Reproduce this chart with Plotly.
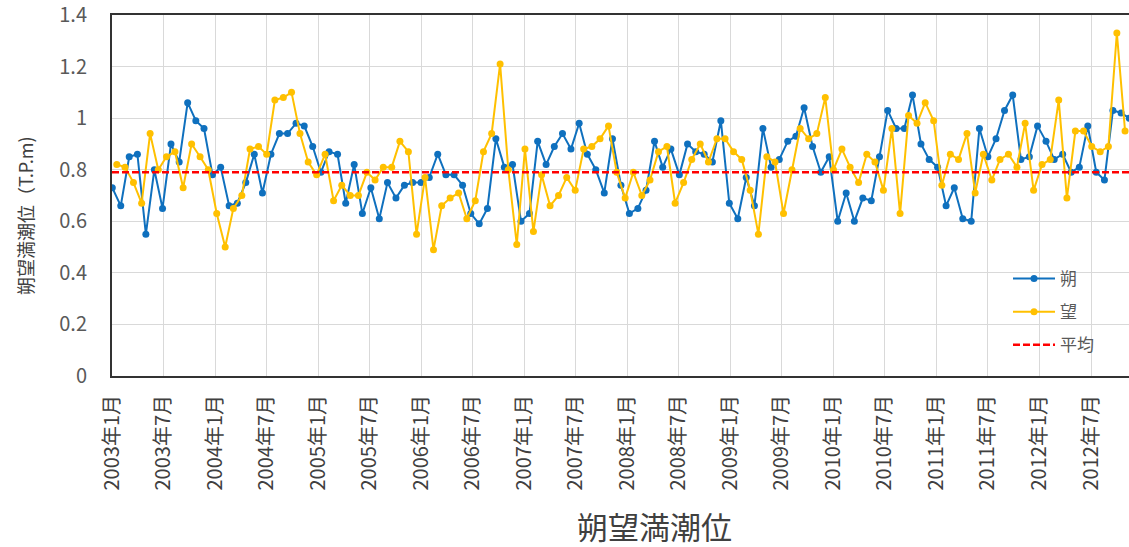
import plotly.graph_objects as go

# 朔 (new moon) dates and high-water levels
saku_dates = [
    "2003-01-02", "2003-02-01", "2003-03-03", "2003-04-01", "2003-05-01", "2003-05-31", "2003-06-29",
    "2003-07-29", "2003-08-27", "2003-09-26", "2003-10-25", "2003-11-23", "2003-12-23",
    "2004-01-21", "2004-02-20", "2004-03-20", "2004-04-19", "2004-05-19", "2004-06-17", "2004-07-17",
    "2004-08-16", "2004-09-14", "2004-10-14", "2004-11-12", "2004-12-12",
    "2005-01-10", "2005-02-08", "2005-03-10", "2005-04-08", "2005-05-08", "2005-06-06", "2005-07-06",
    "2005-08-05", "2005-09-03", "2005-10-03", "2005-11-02", "2005-12-01", "2005-12-31",
    "2006-01-29", "2006-02-28", "2006-03-29", "2006-04-27", "2006-05-27", "2006-06-25", "2006-07-25",
    "2006-08-23", "2006-09-22", "2006-10-22", "2006-11-20", "2006-12-20",
    "2007-01-19", "2007-02-17", "2007-03-19", "2007-04-17", "2007-05-16", "2007-06-15", "2007-07-14",
    "2007-08-12", "2007-09-11", "2007-10-11", "2007-11-09", "2007-12-09",
    "2008-01-08", "2008-02-07", "2008-03-07", "2008-04-06", "2008-05-05", "2008-06-03", "2008-07-03",
    "2008-08-01", "2008-08-30", "2008-09-29", "2008-10-28", "2008-11-27", "2008-12-27",
    "2009-01-26", "2009-02-25", "2009-03-26", "2009-04-25", "2009-05-24", "2009-06-22", "2009-07-22",
    "2009-08-20", "2009-09-18", "2009-10-18", "2009-11-16", "2009-12-16",
    "2010-01-15", "2010-02-14", "2010-03-15", "2010-04-14", "2010-05-14", "2010-06-12", "2010-07-11",
    "2010-08-10", "2010-09-08", "2010-10-07", "2010-11-06", "2010-12-05",
    "2011-01-04", "2011-02-03", "2011-03-04", "2011-04-03", "2011-05-03", "2011-06-01", "2011-07-01",
    "2011-07-30", "2011-08-29", "2011-09-27", "2011-10-26", "2011-11-25", "2011-12-24",
    "2012-01-23", "2012-02-21", "2012-03-22", "2012-04-21", "2012-05-20", "2012-06-19", "2012-07-19",
    "2012-08-17", "2012-09-16", "2012-10-15", "2012-11-13",
]
saku_values = [
    0.73, 0.66, 0.85, 0.86, 0.55, 0.80, 0.65, 0.90, 0.83, 1.06, 0.99, 0.96, 0.78,
    0.81, 0.66, 0.67, 0.75, 0.86, 0.71, 0.86, 0.94, 0.94, 0.98, 0.97, 0.89,
    0.79, 0.87, 0.86, 0.67, 0.82, 0.63, 0.73, 0.61, 0.75, 0.69, 0.74, 0.75, 0.75,
    0.77, 0.86, 0.78, 0.78, 0.74, 0.63, 0.59, 0.65, 0.92, 0.81, 0.82, 0.60,
    0.63, 0.91, 0.82, 0.89, 0.94, 0.88, 0.98, 0.86, 0.80, 0.71, 0.92, 0.74,
    0.63, 0.65, 0.72, 0.91, 0.81, 0.88, 0.78, 0.90, 0.87, 0.86, 0.83, 0.99, 0.67,
    0.61, 0.77, 0.66, 0.96, 0.81, 0.84, 0.91, 0.93, 1.04, 0.89, 0.79, 0.85,
    0.60, 0.71, 0.60, 0.69, 0.68, 0.85, 1.03, 0.96, 0.96, 1.09, 0.90, 0.84,
    0.81, 0.66, 0.73, 0.61, 0.60, 0.96, 0.85, 0.92, 1.03, 1.09, 0.84, 0.85, 0.97,
    0.91, 0.84, 0.86, 0.79, 0.81, 0.97, 0.79, 0.76, 1.03, 1.02, 1.00,
]

# 望 (full moon) dates and high-water levels
bou_dates = [
    "2003-01-18", "2003-02-16", "2003-03-18", "2003-04-16", "2003-05-16", "2003-06-14", "2003-07-13",
    "2003-08-12", "2003-09-10", "2003-10-10", "2003-11-09", "2003-12-08",
    "2004-01-07", "2004-02-06", "2004-03-06", "2004-04-05", "2004-05-04", "2004-06-03", "2004-07-02",
    "2004-07-31", "2004-08-30", "2004-09-28", "2004-10-28", "2004-11-26", "2004-12-26",
    "2005-01-25", "2005-02-24", "2005-03-25", "2005-04-24", "2005-05-23", "2005-06-22", "2005-07-21",
    "2005-08-19", "2005-09-18", "2005-10-17", "2005-11-16", "2005-12-15",
    "2006-01-14", "2006-02-13", "2006-03-14", "2006-04-13", "2006-05-13", "2006-06-11", "2006-07-11",
    "2006-08-09", "2006-09-07", "2006-10-07", "2006-11-05", "2006-12-05",
    "2007-01-03", "2007-02-02", "2007-03-03", "2007-04-02", "2007-05-02", "2007-05-31", "2007-06-30",
    "2007-07-30", "2007-08-28", "2007-09-26", "2007-10-26", "2007-11-24", "2007-12-24",
    "2008-01-22", "2008-02-21", "2008-03-21", "2008-04-20", "2008-05-20", "2008-06-18", "2008-07-18",
    "2008-08-16", "2008-09-15", "2008-10-14", "2008-11-13", "2008-12-12",
    "2009-01-11", "2009-02-09", "2009-03-11", "2009-04-09", "2009-05-09", "2009-06-07", "2009-07-07",
    "2009-08-06", "2009-09-04", "2009-10-04", "2009-11-02", "2009-12-02", "2009-12-31",
    "2010-01-30", "2010-02-28", "2010-03-30", "2010-04-28", "2010-05-27", "2010-06-26", "2010-07-26",
    "2010-08-24", "2010-09-23", "2010-10-23", "2010-11-21", "2010-12-21",
    "2011-01-19", "2011-02-18", "2011-03-19", "2011-04-18", "2011-05-17", "2011-06-15", "2011-07-15",
    "2011-08-13", "2011-09-12", "2011-10-12", "2011-11-10", "2011-12-10",
    "2012-01-09", "2012-02-07", "2012-03-08", "2012-04-06", "2012-05-06", "2012-06-04", "2012-07-03",
    "2012-08-02", "2012-08-31", "2012-09-30", "2012-10-29",
]
bou_values = [
    0.82, 0.81, 0.75, 0.67, 0.94, 0.80, 0.85, 0.87, 0.73, 0.90, 0.85, 0.80,
    0.63, 0.50, 0.65, 0.70, 0.88, 0.89, 0.86, 1.07, 1.08, 1.10, 0.94, 0.83, 0.78,
    0.86, 0.68, 0.74, 0.70, 0.70, 0.79, 0.76, 0.81, 0.81, 0.91, 0.87, 0.55,
    0.77, 0.49, 0.66, 0.69, 0.71, 0.61, 0.68, 0.87, 0.94, 1.21, 0.80, 0.51,
    0.88, 0.56, 0.78, 0.66, 0.70, 0.77, 0.72, 0.88, 0.89, 0.92, 0.97, 0.79, 0.69,
    0.79, 0.70, 0.76, 0.87, 0.89, 0.67, 0.75, 0.84, 0.90, 0.83, 0.92, 0.92,
    0.87, 0.84, 0.72, 0.55, 0.85, 0.83, 0.63, 0.80, 0.96, 0.92, 0.94, 1.08, 0.80,
    0.88, 0.81, 0.75, 0.86, 0.83, 0.72, 0.96, 0.63, 1.01, 0.98, 1.06, 0.99,
    0.74, 0.86, 0.84, 0.94, 0.71, 0.86, 0.76, 0.84, 0.86, 0.81, 0.98, 0.72,
    0.82, 0.84, 1.07, 0.69, 0.95, 0.95, 0.89, 0.87, 0.89, 1.33, 0.95,
]

average_value = 0.79
average_dates = ["2003-01-01", "2013-01-01"]

tick_dates = [
    "2003-01-01", "2003-07-01", "2004-01-01", "2004-07-01", "2005-01-01", "2005-07-01",
    "2006-01-01", "2006-07-01", "2007-01-01", "2007-07-01", "2008-01-01", "2008-07-01",
    "2009-01-01", "2009-07-01", "2010-01-01", "2010-07-01", "2011-01-01", "2011-07-01",
    "2012-01-01", "2012-07-01",
]
tick_labels = [
    "2003年1月", "2003年7月", "2004年1月", "2004年7月", "2005年1月", "2005年7月",
    "2006年1月", "2006年7月", "2007年1月", "2007年7月", "2008年1月", "2008年7月",
    "2009年1月", "2009年7月", "2010年1月", "2010年7月", "2011年1月", "2011年7月",
    "2012年1月", "2012年7月",
]

FONT = "Noto Sans CJK JP"
W, H = 1129, 547
L, R, T, B = 112, 0, 15, 171

fig = go.Figure()
fig.add_trace(go.Scatter(
    x=saku_dates, y=saku_values, name="朔", mode="lines+markers",
    line=dict(color="#0F70BE", width=2), marker=dict(size=7, color="#0F70BE"),
    legendgroup="a",
))
fig.add_trace(go.Scatter(
    x=bou_dates, y=bou_values, name="望", mode="lines+markers",
    line=dict(color="#FFC000", width=2), marker=dict(size=7, color="#FFC000"),
    legendgroup="b",
))
fig.add_trace(go.Scatter(
    x=average_dates, y=[average_value] * len(average_dates), name="平均", mode="lines",
    line=dict(color="#FF0000", width=2.5, dash="7px,3px"),
    legendgroup="c",
))

pw = W - L - R
ph = H - T - B

fig.update_layout(
    width=W, height=H,
    margin=dict(l=L, r=R, t=T, b=B, autoexpand=False),
    paper_bgcolor="white", plot_bgcolor="white",
    font=dict(family=FONT, color="#595959"),
    showlegend=True,
    legend=dict(
        x=(1008 - L) / pw, y=(H - B - 261) / ph, xanchor="left", yanchor="top",
        bgcolor="rgba(0,0,0,0)", font=dict(size=17, color="#595959", family=FONT),
        traceorder="grouped", tracegroupgap=8, itemwidth=42,
    ),
    xaxis=dict(
        type="date", range=["2003-01-01", "2012-11-12"],
        tickmode="array", tickvals=tick_dates, ticktext=tick_labels,
        tickangle=-90, tickfont=dict(size=20, color="#404040", family=FONT),
        showgrid=True, gridcolor="#D9D9D9", gridwidth=1,
        showline=True, linecolor="#333333", linewidth=2, mirror=True,
        ticks="", ticklabelstandoff=9, zeroline=False, ticklabeloverflow="allow",
    ),
    yaxis=dict(
        range=[0, 1.4], dtick=0.2, tick0=0,
        tickfont=dict(size=20, color="#595959", family=FONT),
        showgrid=True, gridcolor="#D9D9D9", gridwidth=1,
        showline=True, linecolor="#333333", linewidth=2, mirror=True,
        ticks="", ticklabelstandoff=19, zeroline=False, ticklabeloverflow="allow",
    ),
    annotations=[
        dict(text="朔望満潮位（T.P.m)", xref="paper", yref="paper",
             x=(25 - L) / pw, y=(H - B - 216) / ph, textangle=-90,
             showarrow=False, xanchor="center", yanchor="middle",
             font=dict(size=18, color="#404040", family=FONT)),
        dict(text="朔望満潮位", xref="paper", yref="paper",
             x=(654 - L) / pw, y=(H - B - 525) / ph,
             showarrow=False, xanchor="center", yanchor="middle",
             font=dict(size=31, color="#404040", family=FONT)),
    ],
)

fig.write_html(
    "out.html",
    config={"displayModeBar": False},
    post_script="document.body.style.margin='0px';document.body.style.padding='0px';document.documentElement.style.overflow='hidden';",
)
